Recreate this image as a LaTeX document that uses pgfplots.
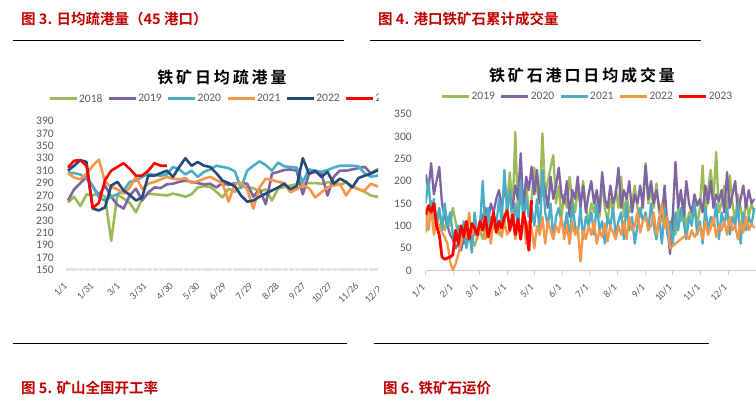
\documentclass[border=0pt]{standalone}
\usepackage{fontspec}
\setmainfont{Carlito}
\newfontfamily\cjkb{Noto Sans CJK SC Bold}
\usepackage{pgfplots}
\pgfplotsset{compat=1.18}
\definecolor{cg}{HTML}{9BBB59}
\definecolor{cp}{HTML}{8064A2}
\definecolor{cc}{HTML}{4BACC6}
\definecolor{co}{HTML}{F79646}
\definecolor{cn}{HTML}{264A79}
\definecolor{cr}{HTML}{FF0000}
\definecolor{tickgray}{HTML}{595959}
\definecolor{hdrred}{HTML}{C00000}
\pgfplotsset{
  common/.style={
    scale only axis, anchor=south west,
    axis line style={draw=none},
    /pgf/number format/assume math mode=true,
    ticklabel style={font=\fontsize{11.5}{13}\selectfont, text=tickgray},
    xticklabel style={font=\fontsize{10}{11}\selectfont, text=tickgray, rotate=45, anchor=east},
    ytick style={draw=none},
    legend columns=-1,
    legend style={draw=none, fill=none, font=\fontsize{11.5}{13}\selectfont, text=tickgray,
      nodes={inner sep=1pt}, /tikz/every even column/.append style={column sep=4pt}},
    legend image code/.code={\draw[#1, line width=3pt] (0pt,0pt) -- (27pt,0pt);},
    no markers, line join=round,
  }
}
\begin{document}
\begin{tikzpicture}
\path[use as bounding box] (0,0) rectangle (756pt,-409pt);
\node[anchor=west, text=hdrred, font=\cjkb\fontsize{14.5}{16}\selectfont, inner sep=0] at (21pt,-19pt) {图 3. 日均疏港量（45 港口）};
\node[anchor=west, text=hdrred, font=\cjkb\fontsize{14.5}{16}\selectfont, inner sep=0] at (378pt,-19pt) {图 4. 港口铁矿石累计成交量};
\node[anchor=west, text=hdrred, font=\cjkb\fontsize{14.5}{16}\selectfont, inner sep=0] at (21pt,-388pt) {图 5. 矿山全国开工率};
\node[anchor=west, text=hdrred, font=\cjkb\fontsize{14.5}{16}\selectfont, inner sep=0] at (383pt,-388pt) {图 6. 铁矿石运价};
\draw[line width=1pt] (13pt,-41pt) -- (344pt,-41pt);
\draw[line width=1pt] (370pt,-41pt) -- (701pt,-41pt);
\draw[line width=1pt] (13pt,-343.5pt) -- (347pt,-343.5pt);
\draw[line width=1pt] (374pt,-343.5pt) -- (709pt,-343.5pt);
\node[font={\cjkb\fontsize{16}{17}\selectfont\addfontfeature{LetterSpace=18}}] at (222pt,-77pt) {铁矿日均疏港量};
\node[font={\cjkb\fontsize{16}{17}\selectfont\addfontfeature{LetterSpace=18}}] at (582pt,-75pt) {铁矿石港口日均成交量};
\begin{scope}
\clip (0,0) rectangle (378pt,-409pt);
\begin{axis}[common,
  at={(66.2pt,-270pt)}, width=330.2pt, height=149pt,
  xmin=-2, xmax=372, ymin=150, ymax=390,
  ytick={150,170,...,390}, yticklabel style={xshift=-9pt},
  xtick={0,30,...,360}, xtick style={draw=none},
  xticklabels={1/1,1/31,3/1,3/31,4/30,5/30,6/29,7/29,8/28,9/27,10/27,11/26,12/26},
  xticklabel shift=12pt,
  legend style={at={(0.478,1.148)}, anchor=center},
  every axis plot/.append style={line width=2.6pt},
]
\draw[gray!22, line width=3.6pt, dash pattern=on 5.48pt off 0.7pt] (rel axis cs:0,0) -- (rel axis cs:1,0);
\addplot[cg] table[x expr=\coordindex*7, y index=0, header=false, row sep=\\] {259\\268\\253\\272\\270\\274\\268\\197\\272\\265\\258\\243\\265\\273\\272\\271\\270\\273\\271\\268\\272\\283\\285\\284\\276\\267\\281\\276\\285\\283\\282\\276\\280\\262\\281\\284\\286\\288\\289\\290\\290\\289\\291\\292\\287\\291\\285\\280\\276\\270\\268\\268\\270\\};
\addplot[cp] table[x expr=\coordindex*7, y index=0, header=false, row sep=\\] {262\\280\\290\\300\\285\\270\\286\\268\\255\\249\\270\\281\\262\\275\\283\\282\\288\\289\\292\\294\\292\\290\\288\\289\\283\\290\\287\\290\\290\\289\\268\\280\\256\\305\\308\\311\\312\\310\\272\\305\\308\\306\\270\\300\\310\\310\\312\\314\\316\\306\\311\\318\\315\\};
\addplot[cc] table[x expr=\coordindex*7, y index=0, header=false, row sep=\\] {307\\306\\304\\297\\285\\267\\262\\268\\272\\278\\292\\294\\300\\305\\303\\302\\304\\316\\312\\304\\310\\300\\308\\312\\318\\316\\314\\309\\282\\310\\318\\325\\319\\310\\323\\317\\316\\315\\292\\312\\310\\308\\311\\315\\318\\318\\318\\317\\306\\300\\302\\304\\305\\};
\addplot[co] table[x expr=\coordindex*7, y index=0, header=false, row sep=\\] {306\\299\\296\\305\\318\\328\\292\\284\\280\\273\\283\\300\\281\\289\\292\\296\\300\\297\\296\\298\\290\\293\\297\\300\\295\\290\\260\\289\\290\\280\\249\\283\\297\\295\\292\\290\\275\\280\\286\\282\\267\\275\\283\\286\\289\\270\\285\\280\\278\\289\\285\\283\\285\\};
\addplot[cn] table[x expr=\coordindex*7, y index=0, header=false, row sep=\\] {310\\318\\327\\324\\249\\246\\251\\286\\292\\278\\271\\262\\267\\302\\302\\306\\310\\300\\316\\330\\318\\324\\318\\316\\306\\294\\290\\285\\270\\260\\262\\268\\273\\278\\283\\289\\280\\285\\330\\305\\310\\300\\308\\289\\297\\292\\283\\298\\302\\305\\310\\308\\310\\};
\addplot[cr] table[x expr=\coordindex*7, y index=0, header=false, row sep=\\] {315\\326\\327\\318\\250\\258\\295\\310\\316\\322\\313\\302\\302\\310\\322\\318\\318\\};
\legend{2018,2019,2020,2021,2022,2023}
\end{axis}
\end{scope}
\begin{axis}[common,
  at={(425.7pt,-270.5pt)}, width=330.3pt, height=156.5pt,
  xmin=0, xmax=365, ymin=0, ymax=350,
  ytick={0,50,...,350}, yticklabel style={xshift=-10.5pt},
  xtick={0,31,59,90,120,151,181,212,243,273,304,334},
  xticklabels={1/1,2/1,3/1,4/1,5/1,6/1,7/1,8/1,9/1,10/1,11/1,12/1},
  xtick pos=left, xtick align=outside, major tick length=5pt,
  xtick style={draw=gray!40, line width=0.8pt},
  xticklabel shift=8pt,
  legend style={at={(0.488,1.109)}, anchor=center},
  every axis plot/.append style={line width=2.3pt},
]
\draw[gray!40, line width=0.8pt] (rel axis cs:0,0) -- (rel axis cs:1,0);
\addplot[cg] table[x expr=\coordindex*3, y index=0, header=false, row sep=\\] {85\\140\\155\\120\\95\\130\\110\\90\\120\\100\\140\\110\\80\\95\\70\\60\\85\\70\\55\\75\\90\\70\\100\\85\\120\\95\\110\\80\\130\\110\\150\\220\\130\\310\\120\\170\\140\\200\\120\\160\\230\\180\\150\\307\\170\\200\\230\\258\\150\\190\\120\\170\\140\\210\\160\\130\\180\\150\\200\\140\\110\\150\\130\\170\\120\\200\\140\\110\\160\\130\\180\\140\\210\\120\\170\\130\\150\\190\\140\\120\\160\\240\\150\\180\\140\\195\\130\\110\\160\\100\\90\\120\\80\\140\\110\\160\\90\\130\\120\\150\\100\\140\\235\\120\\180\\225\\160\\265\\130\\150\\190\\120\\213\\150\\110\\170\\140\\100\\160\\120\\150\\130\\};
\addplot[cp] table[x expr=\coordindex*3, y index=0, header=false, row sep=\\] {215\\180\\240\\170\\200\\232\\150\\120\\100\\80\\70\\50\\60\\45\\70\\55\\80\\65\\90\\75\\100\\120\\140\\110\\150\\130\\160\\180\\140\\185\\150\\170\\140\\190\\160\\262\\130\\210\\180\\232\\170\\225\\150\\200\\180\\140\\210\\160\\190\\230\\170\\150\\200\\120\\180\\160\\210\\140\\190\\130\\170\\200\\150\\180\\130\\220\\160\\140\\190\\150\\170\\230\\140\\180\\160\\200\\130\\170\\150\\190\\140\\235\\160\\200\\150\\180\\140\\120\\190\\100\\37\\120\\243\\140\\180\\120\\200\\150\\130\\170\\145\\160\\130\\190\\150\\200\\140\\170\\155\\180\\130\\220\\140\\170\\200\\130\\160\\190\\140\\180\\150\\160\\};
\addplot[cc] table[x expr=\coordindex*3, y index=0, header=false, row sep=\\] {150\\200\\130\\160\\110\\140\\90\\150\\100\\130\\80\\70\\100\\60\\110\\50\\90\\40\\130\\80\\100\\200\\90\\140\\70\\120\\100\\160\\110\\225\\130\\180\\100\\150\\90\\200\\110\\160\\120\\140\\100\\160\\80\\224\\130\\100\\150\\70\\120\\140\\110\\90\\130\\60\\150\\100\\80\\140\\70\\120\\100\\130\\80\\150\\90\\110\\60\\120\\100\\140\\80\\110\\130\\70\\150\\90\\120\\60\\100\\140\\110\\130\\90\\150\\100\\70\\120\\60\\140\\80\\110\\60\\130\\90\\140\\110\\70\\120\\100\\150\\80\\110\\60\\140\\90\\120\\100\\150\\70\\130\\100\\140\\80\\120\\100\\150\\60\\130\\90\\120\\100\\140\\};
\addplot[co] table[x expr=\coordindex*3, y index=0, header=false, row sep=\\] {130\\90\\140\\80\\110\\100\\85\\75\\60\\20\\0\\15\\35\\60\\90\\75\\130\\80\\100\\70\\90\\110\\70\\100\\60\\120\\85\\95\\75\\110\\80\\90\\130\\70\\100\\80\\120\\60\\110\\95\\50\\100\\80\\120\\60\\110\\90\\70\\100\\85\\120\\70\\100\\60\\110\\80\\95\\20\\90\\70\\100\\80\\110\\60\\90\\75\\105\\65\\100\\85\\70\\100\\80\\110\\70\\120\\90\\100\\130\\85\\110\\120\\90\\100\\130\\80\\110\\150\\95\\120\\50\\55\\60\\65\\70\\75\\80\\70\\90\\75\\85\\100\\70\\110\\80\\95\\120\\75\\100\\90\\110\\80\\120\\90\\100\\70\\110\\85\\120\\90\\105\\95\\};
\addplot[cr, line width=2.8pt] table[x expr=\coordindex*3, y index=0, header=false, row sep=\\] {125\\145\\130\\150\\100\\80\\30\\25\\28\\30\\35\\90\\60\\100\\75\\110\\70\\105\\95\\80\\110\\90\\120\\75\\100\\130\\85\\110\\95\\120\\134\\90\\125\\80\\115\\70\\130\\100\\45\\157\\};
\legend{2019,2020,2021,2022,2023}
\end{axis}
\end{tikzpicture}
\end{document}
